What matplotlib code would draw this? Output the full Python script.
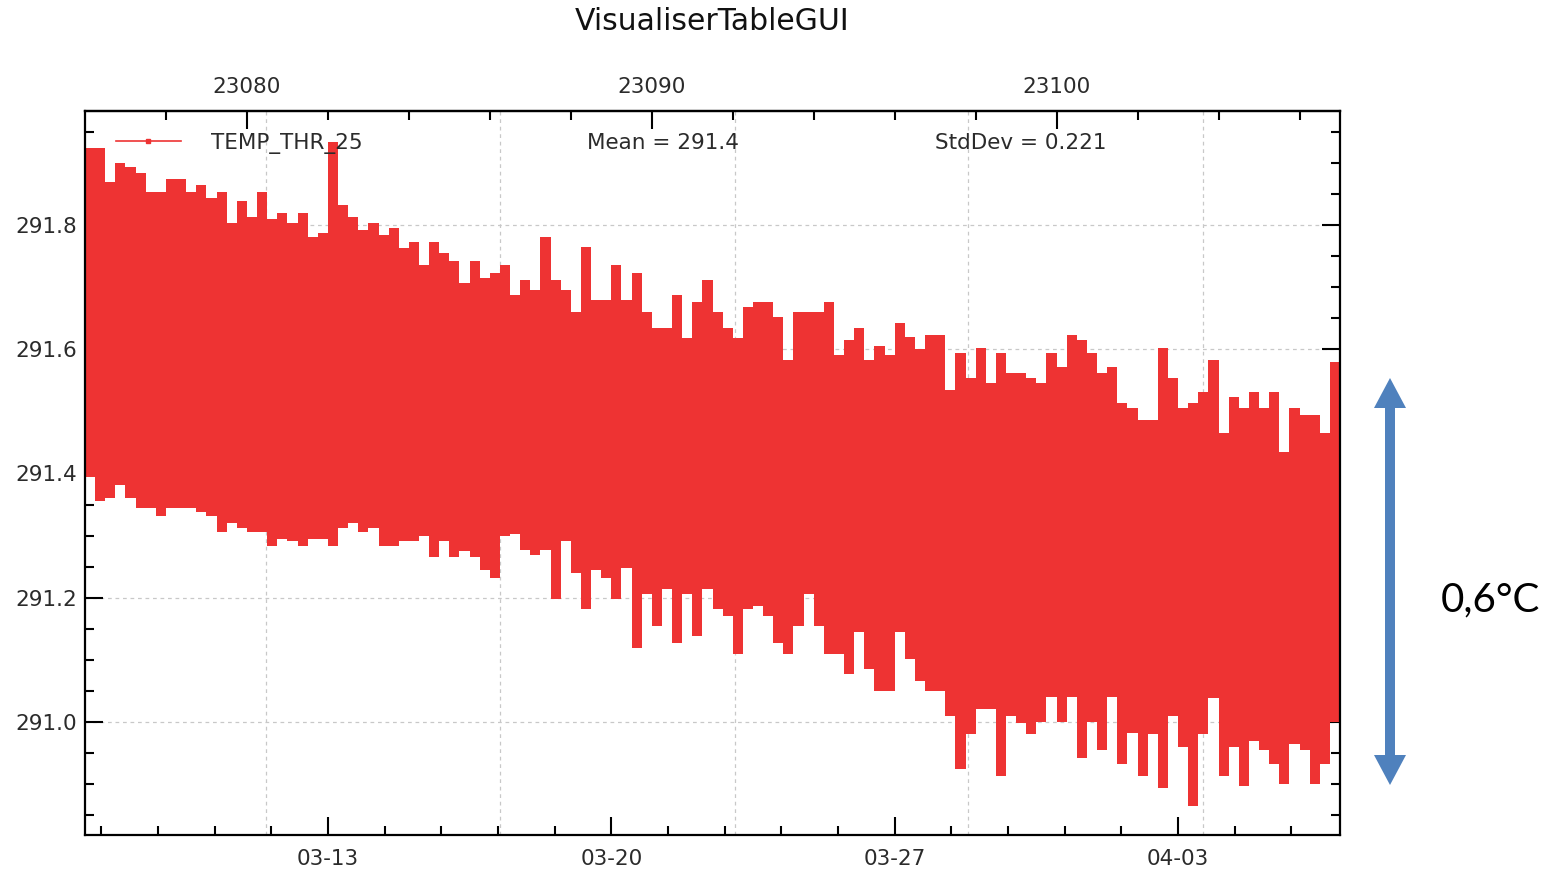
import matplotlib
matplotlib.use("Agg")
import matplotlib.pyplot as plt
import numpy as np
from matplotlib.patches import Polygon
from matplotlib.lines import Line2D
from matplotlib.ticker import FixedLocator, MultipleLocator

# ---- data (0.25-day bins) ----
T_START = 23076.0
T_STEP = 0.25

# upper envelope of TEMP_THR_25 in each bin
UPPER = [
    291.924, 291.924, 291.870, 291.900, 291.894, 291.884, 291.853, 291.853,
    291.874, 291.874, 291.853, 291.865, 291.844, 291.853, 291.803, 291.838,
    291.813, 291.853, 291.810, 291.820, 291.803, 291.820, 291.780, 291.787,
    291.934, 291.832, 291.813, 291.792, 291.803, 291.784, 291.795, 291.763,
    291.773, 291.735, 291.773, 291.755, 291.742, 291.706, 291.742, 291.715,
    291.723, 291.735, 291.687, 291.711, 291.695, 291.781, 291.711, 291.695,
    291.660, 291.765, 291.679, 291.679, 291.735, 291.679, 291.723, 291.660,
    291.634, 291.634, 291.687, 291.618, 291.676, 291.711, 291.660, 291.634,
    291.618, 291.668, 291.676, 291.676, 291.652, 291.582, 291.660, 291.660,
    291.660, 291.676, 291.590, 291.615, 291.634, 291.582, 291.606, 291.590,
    291.642, 291.620, 291.600, 291.623, 291.623, 291.534, 291.594, 291.553,
    291.602, 291.545, 291.594, 291.561, 291.561, 291.553, 291.545, 291.594,
    291.571, 291.623, 291.615, 291.594, 291.561, 291.571, 291.513, 291.505,
    291.486, 291.486, 291.602, 291.553, 291.505, 291.513, 291.531, 291.582,
    291.465, 291.523, 291.505, 291.531, 291.505, 291.531, 291.434, 291.505,
    291.494, 291.494, 291.465, 291.580,
]

# lower envelope of TEMP_THR_25 in each bin
LOWER = [
    291.394, 291.356, 291.361, 291.381, 291.361, 291.344, 291.344, 291.332,
    291.344, 291.344, 291.344, 291.338, 291.332, 291.305, 291.321, 291.313,
    291.305, 291.305, 291.284, 291.295, 291.292, 291.284, 291.295, 291.295,
    291.284, 291.313, 291.321, 291.305, 291.313, 291.284, 291.284, 291.292,
    291.292, 291.300, 291.265, 291.292, 291.265, 291.275, 291.265, 291.244,
    291.232, 291.300, 291.303, 291.276, 291.268, 291.276, 291.198, 291.292,
    291.240, 291.182, 291.244, 291.232, 291.198, 291.248, 291.119, 291.206,
    291.155, 291.214, 291.127, 291.206, 291.139, 291.214, 291.182, 291.171,
    291.110, 291.182, 291.187, 291.171, 291.127, 291.110, 291.155, 291.206,
    291.155, 291.110, 291.110, 291.077, 291.144, 291.085, 291.050, 291.050,
    291.144, 291.102, 291.066, 291.050, 291.050, 291.010, 290.924, 290.980,
    291.021, 291.021, 290.913, 291.010, 290.998, 290.980, 291.000, 291.040,
    291.000, 291.040, 290.942, 291.000, 290.955, 291.040, 290.932, 290.982,
    290.913, 290.980, 290.894, 291.010, 290.960, 290.865, 290.980, 291.039,
    290.913, 290.960, 290.897, 290.970, 290.955, 290.932, 290.900, 290.965,
    290.955, 290.900, 290.932, 291.000,
]

DATE_TICKS = [23082, 23089, 23096, 23103]
DATE_LABELS = ["03-13", "03-20", "03-27", "04-03"]
DAY_TICKS = [23080, 23090, 23100]
GRID_X = [23080.47, 23086.25, 23092.06, 23097.81, 23103.62]
Y_TICKS = [291.0, 291.2, 291.4, 291.6, 291.8]

SERIES_NAME = "TEMP_THR_25"
MEAN_TEXT = "Mean = 291.4"
STD_TEXT = "StdDev = 0.221"

# ---- style ----
RED = "#ee3333"
INK = "#2b2b2b"
ARROW_BLUE = "#4f81bd"
W, H = 1555, 873
AX_L, AX_R, AX_T, AX_B = 85, 1340, 111, 835

fig = plt.figure(figsize=(W / 100, H / 100), dpi=100)
ax = fig.add_axes([AX_L / W, 1 - AX_B / H, (AX_R - AX_L) / W, (AX_B - AX_T) / H])

edges = T_START + T_STEP * np.arange(len(UPPER) + 1)
ax.stairs(UPPER, edges, baseline=LOWER, fill=True, color=RED,
          linewidth=0, zorder=2)

ax.set_xlim(T_START, edges[-1])
ax.set_ylim(290.818, 291.9835)

# grid
for gx in GRID_X:
    ax.axvline(gx, color="#c8c8c8", lw=0.9, ls=(0, (3, 3)), zorder=0)
for gy in Y_TICKS:
    ax.axhline(gy, color="#c8c8c8", lw=0.9, ls=(0, (3, 3)), zorder=0)

# bottom: dates
ax.xaxis.set_major_locator(FixedLocator(DATE_TICKS))
ax.set_xticklabels(DATE_LABELS)
ax.xaxis.set_minor_locator(FixedLocator(np.arange(23076.4, 23107, 1.4)))
ax.set_yticks(Y_TICKS)
ax.set_yticklabels([f"{v:.1f}" for v in Y_TICKS])
ax.yaxis.set_minor_locator(MultipleLocator(0.05))

ax.tick_params(axis="both", which="both", direction="in", width=1.5,
               colors="black", labelcolor=INK, labelsize=15.5, right=True)
ax.tick_params(axis="both", which="major", length=13)
ax.tick_params(axis="both", which="minor", length=6.5)
ax.tick_params(axis="x", pad=10)
ax.tick_params(axis="y", pad=6)

# top: day number axis
top = ax.secondary_xaxis("top")
top.xaxis.set_major_locator(FixedLocator(DAY_TICKS))
top.xaxis.set_minor_locator(FixedLocator(np.arange(23078, 23107, 2)))
top.set_xticklabels([str(d) for d in DAY_TICKS])
top.tick_params(which="both", direction="in", width=1.5, labelcolor=INK,
                labelsize=15.5, pad=10)
top.tick_params(which="major", length=13)
top.tick_params(which="minor", length=6.5)
top.spines["top"].set_linewidth(1.6)

for s in ax.spines.values():
    s.set_linewidth(1.6)

# legend + stats
row_y = 1 - (143 - AX_T) / (AX_B - AX_T)
handle = Line2D([], [], color=RED, lw=1.2, marker="s", markersize=3.5)
ax.legend([handle], [SERIES_NAME], loc="center left", frameon=False,
          fontsize=15.5, handlelength=3.0, handletextpad=1.4,
          borderpad=0, borderaxespad=0,
          bbox_to_anchor=((116 - AX_L) / (AX_R - AX_L), row_y),
          labelcolor=INK)
ax.text((663 - AX_L) / (AX_R - AX_L), row_y, MEAN_TEXT,
        transform=ax.transAxes, ha="center", va="center", fontsize=15.5,
        color=INK, zorder=5)
ax.text((1021 - AX_L) / (AX_R - AX_L), row_y, STD_TEXT,
        transform=ax.transAxes, ha="center", va="center", fontsize=15.5,
        color=INK, zorder=5)

fig.text(712 / W, 1 - 22 / H, "VisualiserTableGUI", ha="center", va="center",
         fontsize=21.5, color="#111111")

# 0.6 degC range arrow (slide overlay)
cx, top_y, bot_y = 1390, 378, 785
hw, sw, hl = 16, 5, 30
pts_px = [
    (cx, top_y), (cx + hw, top_y + hl), (cx + sw, top_y + hl),
    (cx + sw, bot_y - hl), (cx + hw, bot_y - hl), (cx, bot_y),
    (cx - hw, bot_y - hl), (cx - sw, bot_y - hl), (cx - sw, top_y + hl),
    (cx - hw, top_y + hl),
]
pts = [(x / W, 1 - y / H) for x, y in pts_px]
fig.patches.append(Polygon(pts, closed=True, transform=fig.transFigure,
                           facecolor=ARROW_BLUE, edgecolor="none"))
fig.text(1490 / W, 1 - 600 / H, "0,6°C", ha="center", va="center",
         fontsize=29, family=["Lato", "DejaVu Sans"], color="black")

fig.savefig("out.png", dpi=100, facecolor="white")
